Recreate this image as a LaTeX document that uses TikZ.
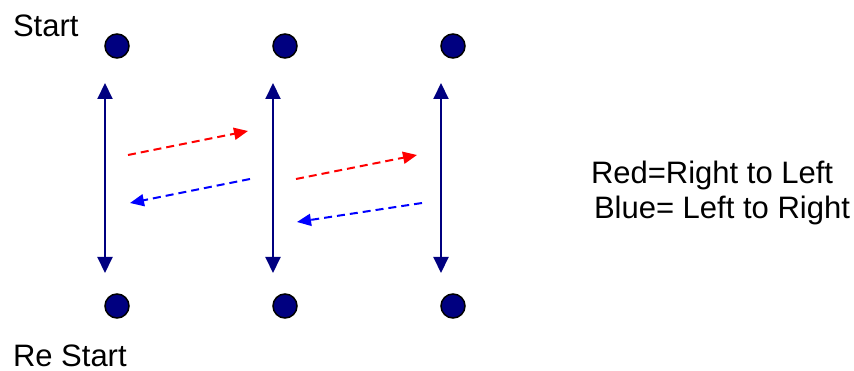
\documentclass[tikz,border=0pt]{standalone}
\usepackage{fontspec}
\setmainfont{Liberation Sans}
\usetikzlibrary{arrows.meta}
\definecolor{navy}{RGB}{0,0,128}

\begin{document}
\begin{tikzpicture}[x=1pt, y=-1pt, line width=2pt,
    dot/.style={circle, draw=black, fill=navy, line width=1.5pt, inner sep=0pt, minimum size=24pt},
    label/.style={inner sep=0pt, font=\fontsize{31}{37}\selectfont},
    pass/.style={navy, {Triangle[length=16pt,width=15pt]}-{Triangle[length=16pt,width=15pt]}},
    rtol/.style={red, dash pattern=on 8pt off 5pt, -{Triangle[length=14pt,width=12pt]}},
    ltor/.style={blue, dash pattern=on 8pt off 5pt, -{Triangle[length=14pt,width=12pt]}}]
    \useasboundingbox (0,0) rectangle (854,371);

    % 上下两排圆点
    \foreach \i/\x in {1/117, 2/285, 3/453} {
        \node[dot] (s\i) at (\x,46) {};
        \node[dot] (r\i) at (\x,306) {};
        \coordinate (t\i) at (\x-12,83);
        \coordinate (b\i) at (\x-12,273);
        \draw[pass] (t\i) -- (b\i);
    }

    % 虚线箭头的端点
    \coordinate (a1) at (128,155);
    \coordinate (a2) at (248,131);
    \coordinate (c1) at (250,179);
    \coordinate (c2) at (130,203);
    \coordinate (a3) at (296,179);
    \coordinate (a4) at (417,155);
    \coordinate (c3) at (422,203);
    \coordinate (c4) at (297,222);

    \draw[rtol] (a1) -- (a2);
    \draw[ltor] (c1) -- (c2);
    \draw[rtol] (a3) -- (a4);
    \draw[ltor] (c3) -- (c4);

    % 文字
    \node[label, anchor=base west] (start) at (12,37) {Start};
    \node[label, anchor=base west] (restart) at (12,366) {Re Start};
    \node[label, anchor=base west] (red) at (590,184) {Red=Right to Left};
    \node[label, anchor=base west] (blue) at (593,219) {Blue= Left to Right};
\end{tikzpicture}
\end{document}
